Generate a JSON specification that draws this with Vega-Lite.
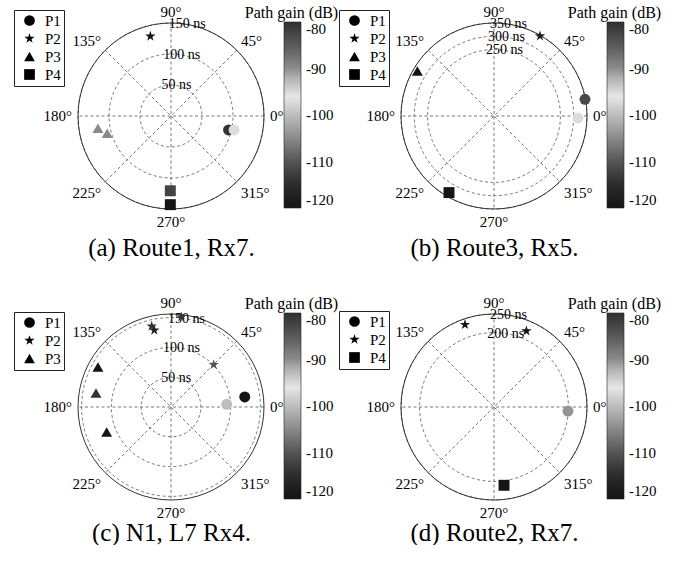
{
  "$schema": "https://vega.github.io/schema/vega-lite/v6.json",
  "padding": {"left": 13, "top": 4, "right": 0, "bottom": 0},
  "config": {
    "view": {"stroke": null},
    "font": "Liberation Serif",
    "text": {"font": "Liberation Serif"},
    "axis": {"domain": false, "ticks": false, "labels": false, "grid": false, "titleFont": "Liberation Serif", "titleFontWeight": "normal", "titleColor": "black", "titleAlign": "center", "titleBaseline": "middle"},
    "legend": {"labelFont": "Liberation Serif", "labelColor": "black"}
  },
  "datasets": {
    "angles": [
      {"a": 0, "t": "0°"}, {"a": 45, "t": "45°"}, {"a": 90, "t": "90°"}, {"a": 135, "t": "135°"},
      {"a": 180, "t": "180°"}, {"a": 225, "t": "225°"}, {"a": 270, "t": "270°"}, {"a": 315, "t": "315°"}
    ]
  },
  "resolve": {
    "scale": {"x": "independent", "y": "independent", "color": "independent", "shape": "independent", "radius": "independent", "theta": "independent"},
    "legend": {"color": "independent", "shape": "independent"}
  },
  "columns": 2,
  "spacing": {"row": 105, "column": 137},
  "bounds": "flush",
  "concat": [
    {
      "width": 186, "height": 186,
      "layer": [
        {"data": {"values": [{"ns": 50}, {"ns": 100}, {"ns": 150}]},
         "mark": {"type": "arc", "filled": false, "stroke": "#555", "strokeWidth": 0.8, "strokeDash": [3, 2.5], "theta": 0, "theta2": 6.2832},
         "encoding": {"radius": {"field": "ns", "type": "quantitative", "stack": null, "scale": {"type": "linear", "domain": [0, 150], "range": [0, 93]}}}},
        {"data": {"values": [{"x1": 150, "y1": 0, "x2": -150, "y2": 0}, {"x1": 106.07, "y1": 106.07, "x2": -106.07, "y2": -106.07}, {"x1": 0, "y1": 150, "x2": 0, "y2": -150}, {"x1": -106.07, "y1": 106.07, "x2": 106.07, "y2": -106.07}]},
         "mark": {"type": "rule", "stroke": "#555", "strokeWidth": 0.8, "strokeDash": [3, 2.5]},
         "encoding": {"x": {"field": "x1", "type": "quantitative", "scale": {"domain": [-150, 150]}}, "y": {"field": "y1", "type": "quantitative", "scale": {"domain": [-150, 150]}}, "x2": {"field": "x2"}, "y2": {"field": "y2"}}},
        {"data": {"values": [{"ns": 150}]},
         "mark": {"type": "arc", "filled": false, "stroke": "#333", "strokeWidth": 1, "theta": 0, "theta2": 6.2832},
         "encoding": {"radius": {"field": "ns", "type": "quantitative", "stack": null}}},
        {"data": {"values": [{"ns": 50, "label": "50 ns"}, {"ns": 100, "label": "100 ns"}, {"ns": 150, "label": "150 ns"}]},
         "mark": {"type": "text", "font": "Liberation Serif", "fontSize": 14, "align": "center", "baseline": "middle", "color": "black"},
         "encoding": {"radius": {"field": "ns", "type": "quantitative", "stack": null}, "theta": {"datum": 80, "type": "quantitative"}, "text": {"field": "label"}}},
        {"data": {"name": "angles"},
         "mark": {"type": "text", "font": "Liberation Serif", "fontSize": 15, "radius": 99, "color": "black",
                  "align": {"expr": "datum.a == 90 || datum.a == 270 ? 'center' : (datum.a < 90 || datum.a > 270) ? 'left' : 'right'"},
                  "baseline": {"expr": "datum.a == 0 || datum.a == 180 ? 'middle' : datum.a < 180 ? 'alphabetic' : 'top'"}},
         "encoding": {"theta": {"field": "a", "type": "quantitative", "stack": null, "scale": {"domain": [0, 360], "range": [1.5708, -4.7124]}}, "text": {"field": "t"}}},
        {"data": {"values": [
          {"path": "P1", "x": 92.8, "y": -22.5, "gain": -114},
          {"path": "P1", "x": 101.8, "y": -22.5, "gain": -97},
          {"path": "P2", "x": -33.3, "y": 128.6, "gain": -120},
          {"path": "P3", "x": -117.8, "y": -19.8, "gain": -105},
          {"path": "P3", "x": -102.9, "y": -27.8, "gain": -105},
          {"path": "P4", "x": -1.1, "y": -120.6, "gain": -112},
          {"path": "P4", "x": -1.1, "y": -143, "gain": -120}]},
         "mark": {"type": "point", "filled": true, "opacity": 1, "size": 120, "strokeWidth": 0},
         "encoding": {
           "x": {"field": "x", "type": "quantitative", "scale": {"domain": [-150, 150]}, "axis": {"title": "(a) Route1, Rx7.", "titleX": 93, "titleY": 38, "titleFontSize": 25}},
           "y": {"field": "y", "type": "quantitative", "scale": {"domain": [-150, 150]}, "axis": {"title": "Path gain (dB)", "titleAngle": 0, "titleX": 213, "titleY": -11, "titleFontSize": 16}},
           "color": {"field": "gain", "type": "quantitative",
             "scale": {"type": "linear", "interpolate": "rgb", "domain": [-120, -115, -110, -105, -100, -96, -92, -90, -85, -80], "range": ["#151515", "#2a2a2a", "#555555", "#8a8a8a", "#bdbdbd", "#e6e6e6", "#b0b0b0", "#8c8c8c", "#595959", "#303030"]},
             "legend": {"orient": "none", "legendX": 206, "legendY": -1, "title": null, "direction": "vertical", "gradientLength": 186, "gradientThickness": 17, "gradientStrokeColor": "#222", "gradientStrokeWidth": 0.6, "labelFont": "Liberation Serif", "labelFontSize": 15, "labelOffset": 5, "labelBaseline": "middle", "labelExpr": "'-' + (-datum.value)", "values": [-120, -110, -100, -90, -80]}},
           "shape": {"field": "path", "type": "nominal",
             "scale": {"domain": ["P1", "P2", "P3", "P4"], "range": ["circle", "M0,-1L0.2245,-0.309L0.951,-0.309L0.363,0.118L0.588,0.809L0,0.382L-0.588,0.809L-0.363,0.118L-0.951,-0.309L-0.2245,-0.309Z", "triangle-up", "square"]},
             "legend": {"orient": "none", "legendX": -64, "legendY": -13, "title": null, "padding": 3, "strokeColor": "#222", "fillColor": "#fff", "labelFont": "Liberation Serif", "labelFontSize": 15, "symbolSize": 115, "rowPadding": 2, "labelOffset": 8, "symbolOffset": 5, "symbolStrokeWidth": 0,
               "encode": {"symbols": {"update": {"fill": {"signal": "datum.value == 'P1' ? '#3c3c3c' : datum.value == 'P2' ? '#111111' : datum.value == 'P3' ? '#888888' : '#444444'"}, "opacity": {"value": 1}}}}}}
         }}
      ]
    },
    {
      "width": 186, "height": 186,
      "layer": [
        {"data": {"values": [{"ns": 250}, {"ns": 300}, {"ns": 350}]},
         "mark": {"type": "arc", "filled": false, "stroke": "#555", "strokeWidth": 0.8, "strokeDash": [3, 2.5], "theta": 0, "theta2": 6.2832},
         "encoding": {"radius": {"field": "ns", "type": "quantitative", "stack": null, "scale": {"type": "linear", "domain": [0, 350], "range": [0, 93]}}}},
        {"data": {"values": [{"x1": 350, "y1": 0, "x2": -350, "y2": 0}, {"x1": 247.49, "y1": 247.49, "x2": -247.49, "y2": -247.49}, {"x1": 0, "y1": 350, "x2": 0, "y2": -350}, {"x1": -247.49, "y1": 247.49, "x2": 247.49, "y2": -247.49}]},
         "mark": {"type": "rule", "stroke": "#555", "strokeWidth": 0.8, "strokeDash": [3, 2.5]},
         "encoding": {"x": {"field": "x1", "type": "quantitative", "scale": {"domain": [-350, 350]}}, "y": {"field": "y1", "type": "quantitative", "scale": {"domain": [-350, 350]}}, "x2": {"field": "x2"}, "y2": {"field": "y2"}}},
        {"data": {"values": [{"ns": 350}]},
         "mark": {"type": "arc", "filled": false, "stroke": "#333", "strokeWidth": 1, "theta": 0, "theta2": 6.2832},
         "encoding": {"radius": {"field": "ns", "type": "quantitative", "stack": null}}},
        {"data": {"values": [{"ns": 250, "label": "250 ns"}, {"ns": 300, "label": "300 ns"}, {"ns": 350, "label": "350 ns"}]},
         "mark": {"type": "text", "font": "Liberation Serif", "fontSize": 14, "align": "center", "baseline": "middle", "color": "black"},
         "encoding": {"radius": {"field": "ns", "type": "quantitative", "stack": null}, "theta": {"datum": 81, "type": "quantitative"}, "text": {"field": "label"}}},
        {"data": {"name": "angles"},
         "mark": {"type": "text", "font": "Liberation Serif", "fontSize": 15, "radius": 99, "color": "black",
                  "align": {"expr": "datum.a == 90 || datum.a == 270 ? 'center' : (datum.a < 90 || datum.a > 270) ? 'left' : 'right'"},
                  "baseline": {"expr": "datum.a == 0 || datum.a == 180 ? 'middle' : datum.a < 180 ? 'alphabetic' : 'top'"}},
         "encoding": {"theta": {"field": "a", "type": "quantitative", "stack": null, "scale": {"domain": [0, 360], "range": [1.5708, -4.7124]}}, "text": {"field": "t"}}},
        {"data": {"values": [
          {"path": "P1", "x": 316, "y": -7.5, "gain": -97},
          {"path": "P1", "x": 342.5, "y": 62.9, "gain": -83},
          {"path": "P2", "x": 173, "y": 301, "gain": -118},
          {"path": "P3", "x": -288.3, "y": 169.4, "gain": -120},
          {"path": "P4", "x": -169.4, "y": -288.3, "gain": -120}]},
         "mark": {"type": "point", "filled": true, "opacity": 1, "size": 120, "strokeWidth": 0},
         "encoding": {
           "x": {"field": "x", "type": "quantitative", "scale": {"domain": [-350, 350]}, "axis": {"title": "(b) Route3, Rx5.", "titleX": 93, "titleY": 38, "titleFontSize": 25}},
           "y": {"field": "y", "type": "quantitative", "scale": {"domain": [-350, 350]}, "axis": {"title": "Path gain (dB)", "titleAngle": 0, "titleX": 213, "titleY": -11, "titleFontSize": 16}},
           "color": {"field": "gain", "type": "quantitative",
             "scale": {"type": "linear", "interpolate": "rgb", "domain": [-120, -115, -110, -105, -100, -96, -92, -90, -85, -80], "range": ["#151515", "#2a2a2a", "#555555", "#8a8a8a", "#bdbdbd", "#e6e6e6", "#b0b0b0", "#8c8c8c", "#595959", "#303030"]},
             "legend": {"orient": "none", "legendX": 206, "legendY": -1, "title": null, "direction": "vertical", "gradientLength": 186, "gradientThickness": 17, "gradientStrokeColor": "#222", "gradientStrokeWidth": 0.6, "labelFont": "Liberation Serif", "labelFontSize": 15, "labelOffset": 5, "labelBaseline": "middle", "labelExpr": "'-' + (-datum.value)", "values": [-120, -110, -100, -90, -80]}},
           "shape": {"field": "path", "type": "nominal",
             "scale": {"domain": ["P1", "P2", "P3", "P4"], "range": ["circle", "M0,-1L0.2245,-0.309L0.951,-0.309L0.363,0.118L0.588,0.809L0,0.382L-0.588,0.809L-0.363,0.118L-0.951,-0.309L-0.2245,-0.309Z", "triangle-up", "square"]},
             "legend": {"orient": "none", "legendX": -62, "legendY": -13, "title": null, "padding": 3, "strokeColor": "#222", "fillColor": "#fff", "labelFont": "Liberation Serif", "labelFontSize": 15, "symbolSize": 115, "rowPadding": 2, "labelOffset": 8, "symbolOffset": 5, "symbolStrokeWidth": 0,
               "encode": {"symbols": {"update": {"fill": {"signal": "datum.value == 'P1' ? '#dddddd' : '#111111'"}, "opacity": {"value": 1}}}}}}
         }}
      ]
    },
    {
      "width": 186, "height": 186,
      "layer": [
        {"data": {"values": [{"ns": 50}, {"ns": 100}, {"ns": 150}]},
         "mark": {"type": "arc", "filled": false, "stroke": "#555", "strokeWidth": 0.8, "strokeDash": [3, 2.5], "theta": 0, "theta2": 6.2832},
         "encoding": {"radius": {"field": "ns", "type": "quantitative", "stack": null, "scale": {"type": "linear", "domain": [0, 156], "range": [0, 93]}}}},
        {"data": {"values": [{"x1": 156, "y1": 0, "x2": -156, "y2": 0}, {"x1": 110.31, "y1": 110.31, "x2": -110.31, "y2": -110.31}, {"x1": 0, "y1": 156, "x2": 0, "y2": -156}, {"x1": -110.31, "y1": 110.31, "x2": 110.31, "y2": -110.31}]},
         "mark": {"type": "rule", "stroke": "#555", "strokeWidth": 0.8, "strokeDash": [3, 2.5]},
         "encoding": {"x": {"field": "x1", "type": "quantitative", "scale": {"domain": [-156, 156]}}, "y": {"field": "y1", "type": "quantitative", "scale": {"domain": [-156, 156]}}, "x2": {"field": "x2"}, "y2": {"field": "y2"}}},
        {"data": {"values": [{"ns": 156}]},
         "mark": {"type": "arc", "filled": false, "stroke": "#333", "strokeWidth": 1, "theta": 0, "theta2": 6.2832},
         "encoding": {"radius": {"field": "ns", "type": "quantitative", "stack": null}}},
        {"data": {"values": [{"ns": 50, "label": "50 ns"}, {"ns": 100, "label": "100 ns"}, {"ns": 150, "label": "150 ns"}]},
         "mark": {"type": "text", "font": "Liberation Serif", "fontSize": 14, "align": "center", "baseline": "middle", "color": "black"},
         "encoding": {"radius": {"field": "ns", "type": "quantitative", "stack": null}, "theta": {"datum": 80, "type": "quantitative"}, "text": {"field": "label"}}},
        {"data": {"name": "angles"},
         "mark": {"type": "text", "font": "Liberation Serif", "fontSize": 15, "radius": 99, "color": "black",
                  "align": {"expr": "datum.a == 90 || datum.a == 270 ? 'center' : (datum.a < 90 || datum.a > 270) ? 'left' : 'right'"},
                  "baseline": {"expr": "datum.a == 0 || datum.a == 180 ? 'middle' : datum.a < 180 ? 'alphabetic' : 'top'"}},
         "encoding": {"theta": {"field": "a", "type": "quantitative", "stack": null, "scale": {"domain": [0, 360], "range": [1.5708, -4.7124]}}, "text": {"field": "t"}}},
        {"data": {"values": [
          {"path": "P1", "x": 93.5, "y": 4.5, "gain": -100},
          {"path": "P1", "x": 123.7, "y": 16.8, "gain": -120},
          {"path": "P2", "x": 17.3, "y": 151, "gain": -114},
          {"path": "P2", "x": -32.4, "y": 135.4, "gain": -114},
          {"path": "P2", "x": -28, "y": 128.7, "gain": -117},
          {"path": "P2", "x": 71.6, "y": 71.1, "gain": -110},
          {"path": "P3", "x": -122.5, "y": 67.1, "gain": -120},
          {"path": "P3", "x": -125.8, "y": 23.5, "gain": -114},
          {"path": "P3", "x": -107.9, "y": -41.9, "gain": -120}]},
         "mark": {"type": "point", "filled": true, "opacity": 1, "size": 120, "strokeWidth": 0},
         "encoding": {
           "x": {"field": "x", "type": "quantitative", "scale": {"domain": [-156, 156]}, "axis": {"title": "(c) N1, L7 Rx4.", "titleX": 93, "titleY": 32, "titleFontSize": 25}},
           "y": {"field": "y", "type": "quantitative", "scale": {"domain": [-156, 156]}, "axis": {"title": "Path gain (dB)", "titleAngle": 0, "titleX": 213, "titleY": -11, "titleFontSize": 16}},
           "color": {"field": "gain", "type": "quantitative",
             "scale": {"type": "linear", "interpolate": "rgb", "domain": [-120, -115, -110, -105, -100, -96, -92, -90, -85, -80], "range": ["#151515", "#2a2a2a", "#555555", "#8a8a8a", "#bdbdbd", "#e6e6e6", "#b0b0b0", "#8c8c8c", "#595959", "#303030"]},
             "legend": {"orient": "none", "legendX": 206, "legendY": -1, "title": null, "direction": "vertical", "gradientLength": 186, "gradientThickness": 17, "gradientStrokeColor": "#222", "gradientStrokeWidth": 0.6, "labelFont": "Liberation Serif", "labelFontSize": 15, "labelOffset": 5, "labelBaseline": "middle", "labelExpr": "'-' + (-datum.value)", "values": [-120, -110, -100, -90, -80]}},
           "shape": {"field": "path", "type": "nominal",
             "scale": {"domain": ["P1", "P2", "P3"], "range": ["circle", "M0,-1L0.2245,-0.309L0.951,-0.309L0.363,0.118L0.588,0.809L0,0.382L-0.588,0.809L-0.363,0.118L-0.951,-0.309L-0.2245,-0.309Z", "triangle-up"]},
             "legend": {"orient": "none", "legendX": -64, "legendY": -2, "title": null, "padding": 3, "strokeColor": "#222", "fillColor": "#fff", "labelFont": "Liberation Serif", "labelFontSize": 15, "symbolSize": 115, "rowPadding": 2, "labelOffset": 8, "symbolOffset": 5, "symbolStrokeWidth": 0,
               "encode": {"symbols": {"update": {"fill": {"signal": "datum.value == 'P1' ? '#bbbbbb' : datum.value == 'P2' ? '#444444' : '#111111'"}, "opacity": {"value": 1}}}}}}
         }}
      ]
    },
    {
      "width": 186, "height": 186,
      "layer": [
        {"data": {"values": [{"ns": 200}, {"ns": 250}]},
         "mark": {"type": "arc", "filled": false, "stroke": "#555", "strokeWidth": 0.8, "strokeDash": [3, 2.5], "theta": 0, "theta2": 6.2832},
         "encoding": {"radius": {"field": "ns", "type": "quantitative", "stack": null, "scale": {"type": "linear", "domain": [0, 250], "range": [0, 93]}}}},
        {"data": {"values": [{"x1": 250, "y1": 0, "x2": -250, "y2": 0}, {"x1": 176.78, "y1": 176.78, "x2": -176.78, "y2": -176.78}, {"x1": 0, "y1": 250, "x2": 0, "y2": -250}, {"x1": -176.78, "y1": 176.78, "x2": 176.78, "y2": -176.78}]},
         "mark": {"type": "rule", "stroke": "#555", "strokeWidth": 0.8, "strokeDash": [3, 2.5]},
         "encoding": {"x": {"field": "x1", "type": "quantitative", "scale": {"domain": [-250, 250]}}, "y": {"field": "y1", "type": "quantitative", "scale": {"domain": [-250, 250]}}, "x2": {"field": "x2"}, "y2": {"field": "y2"}}},
        {"data": {"values": [{"ns": 250}]},
         "mark": {"type": "arc", "filled": false, "stroke": "#333", "strokeWidth": 1, "theta": 0, "theta2": 6.2832},
         "encoding": {"radius": {"field": "ns", "type": "quantitative", "stack": null}}},
        {"data": {"values": [{"ns": 200, "label": "200 ns"}, {"ns": 250, "label": "250 ns"}]},
         "mark": {"type": "text", "font": "Liberation Serif", "fontSize": 14, "align": "center", "baseline": "middle", "color": "black"},
         "encoding": {"radius": {"field": "ns", "type": "quantitative", "stack": null}, "theta": {"datum": 81, "type": "quantitative"}, "text": {"field": "label"}}},
        {"data": {"name": "angles"},
         "mark": {"type": "text", "font": "Liberation Serif", "fontSize": 15, "radius": 99, "color": "black",
                  "align": {"expr": "datum.a == 90 || datum.a == 270 ? 'center' : (datum.a < 90 || datum.a > 270) ? 'left' : 'right'"},
                  "baseline": {"expr": "datum.a == 0 || datum.a == 180 ? 'middle' : datum.a < 180 ? 'alphabetic' : 'top'"}},
         "encoding": {"theta": {"field": "a", "type": "quantitative", "stack": null, "scale": {"domain": [0, 360], "range": [1.5708, -4.7124]}}, "text": {"field": "t"}}},
        {"data": {"values": [
          {"path": "P1", "x": 198.9, "y": -10.8, "gain": -104},
          {"path": "P2", "x": -78, "y": 221.5, "gain": -120},
          {"path": "P2", "x": 87.1, "y": 204.3, "gain": -120},
          {"path": "P4", "x": 26.9, "y": -210.5, "gain": -120}]},
         "mark": {"type": "point", "filled": true, "opacity": 1, "size": 120, "strokeWidth": 0},
         "encoding": {
           "x": {"field": "x", "type": "quantitative", "scale": {"domain": [-250, 250]}, "axis": {"title": "(d) Route2, Rx7.", "titleX": 93, "titleY": 32, "titleFontSize": 25}},
           "y": {"field": "y", "type": "quantitative", "scale": {"domain": [-250, 250]}, "axis": {"title": "Path gain (dB)", "titleAngle": 0, "titleX": 213, "titleY": -11, "titleFontSize": 16}},
           "color": {"field": "gain", "type": "quantitative",
             "scale": {"type": "linear", "interpolate": "rgb", "domain": [-120, -115, -110, -105, -100, -96, -92, -90, -85, -80], "range": ["#151515", "#2a2a2a", "#555555", "#8a8a8a", "#bdbdbd", "#e6e6e6", "#b0b0b0", "#8c8c8c", "#595959", "#303030"]},
             "legend": {"orient": "none", "legendX": 206, "legendY": -1, "title": null, "direction": "vertical", "gradientLength": 186, "gradientThickness": 17, "gradientStrokeColor": "#222", "gradientStrokeWidth": 0.6, "labelFont": "Liberation Serif", "labelFontSize": 15, "labelOffset": 5, "labelBaseline": "middle", "labelExpr": "'-' + (-datum.value)", "values": [-120, -110, -100, -90, -80]}},
           "shape": {"field": "path", "type": "nominal",
             "scale": {"domain": ["P1", "P2", "P4"], "range": ["circle", "M0,-1L0.2245,-0.309L0.951,-0.309L0.363,0.118L0.588,0.809L0,0.382L-0.588,0.809L-0.363,0.118L-0.951,-0.309L-0.2245,-0.309Z", "square"]},
             "legend": {"orient": "none", "legendX": -62, "legendY": -3, "title": null, "padding": 3, "strokeColor": "#222", "fillColor": "#fff", "labelFont": "Liberation Serif", "labelFontSize": 15, "symbolSize": 115, "rowPadding": 2, "labelOffset": 8, "symbolOffset": 5, "symbolStrokeWidth": 0,
               "encode": {"symbols": {"update": {"fill": {"signal": "datum.value == 'P1' ? '#999999' : '#111111'"}, "opacity": {"value": 1}}}}}}
         }}
      ]
    }
  ]
}
